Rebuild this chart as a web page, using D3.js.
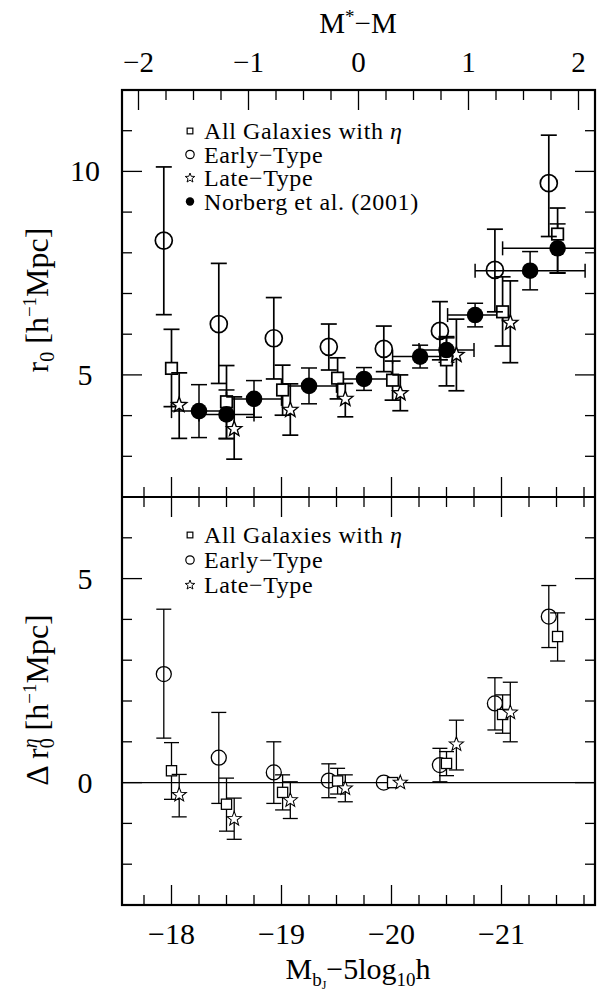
<!DOCTYPE html>
<html>
<head>
<meta charset="utf-8">
<script src="https://cdn.jsdelivr.net/npm/d3@7"></script>
<style>
  body { margin: 0; background: #fff; }
  text { font-family: "Liberation Serif", "DejaVu Serif", serif; fill: #000; }
</style>
</head>
<body>
<svg id="chart" width="601" height="993"></svg>
<script>
// ---- data ----
// absolute magnitude M_bJ - 5log10 h of each bin
const magAll   = [-18.00, -18.50, -19.01, -19.51, -20.01, -20.50, -21.01, -21.51];
const magEarly = [-17.93, -18.43, -18.93, -19.43, -19.93, -20.44, -20.94, -21.43];
const magLate  = [-18.07, -18.57, -19.08, -19.58, -20.08, -20.59, -21.08];

// upper panel: r0 [h^-1 Mpc] with error bar ends
const r0All     = [5.16, 4.34, 4.63, 4.92, 4.87, 5.37, 6.55, 8.46];
const r0AllHi   = [6.12, 5.23, 5.24, 5.42, 5.34, 5.94, 7.41, 9.10];
const r0AllLo   = [4.22, 3.44, 4.01, 4.41, 4.38, 4.73, 5.71, 7.50];
const r0Early   = [8.30, 6.25, 5.90, 5.69, 5.64, 6.08, 7.58, 9.71];
const r0EarlyHi = [10.11, 7.74, 6.90, 6.25, 6.20, 6.80, 8.58, 10.89];
const r0EarlyLo = [6.48, 4.79, 4.90, 5.12, 5.08, 5.37, 6.55, 8.40];
const r0Late    = [4.26, 3.67, 4.14, 4.41, 4.55, 5.49, 6.28];
const r0LateHi  = [5.05, 4.46, 4.78, 4.79, 5.00, 6.37, 7.31];
const r0LateLo  = [3.44, 2.93, 3.52, 3.97, 4.12, 4.61, 5.30];

// Norberg et al. (2001)
const magNorberg   = [-18.25, -18.50, -18.75, -19.25, -19.75, -20.26, -20.50, -20.76, -21.26, -21.51];
const magNorbergHw = [0.25, 0.25, 0.25, 0.25, 0.25, 0.25, 0.25, 0.25, 0.50, 0.50];
const r0Norberg    = [4.11, 4.03, 4.41, 4.73, 4.90, 5.45, 5.61, 6.47, 7.56, 8.11];
const r0NorbergErr = [0.65, 0.60, 0.45, 0.44, 0.28, 0.28, 0.30, 0.29, 0.47, 0.60];

// lower panel: delta r0^eta [h^-1 Mpc]
const dAll     = [0.29, -0.53, -0.24, 0.04, 0.00, 0.47, 1.67, 3.58];
const dAllHi   = [0.98, 0.11, 0.19, 0.35, 0.00, 0.76, 2.15, 4.16];
const dAllLo   = [-0.41, -1.19, -0.67, -0.28, 0.00, 0.17, 1.21, 2.98];
const dEarly   = [2.66, 0.61, 0.25, 0.05, 0.00, 0.43, 1.94, 4.07];
const dEarlyHi = [4.25, 1.72, 1.00, 0.46, 0.00, 0.84, 2.57, 4.83];
const dEarlyLo = [1.09, -0.51, -0.51, -0.37, 0.00, 0.02, 1.29, 3.31];
const dLate    = [-0.30, -0.89, -0.43, -0.14, 0.00, 0.94, 1.72];
const dLateHi  = [0.20, -0.38, 0.02, 0.19, 0.00, 1.53, 2.46];
const dLateLo  = [-0.84, -1.39, -0.88, -0.47, 0.00, 0.31, 1.00];

// axes
const mStar = -19.7;                       // top axis is M* - M
const magTicks = [-18, -19, -20, -21];
const topTicks = [-2, -1, 0, 1, 2];
const r0Ticks = [5, 10];
const dTicks = [0, 5];
const legendTop = ["All Galaxies with ", "Early\u2212Type", "Late\u2212Type", "Norberg et al. (2001)"];
const legendBot = ["All Galaxies with ", "Early\u2212Type", "Late\u2212Type"];

// ---- layout ----
const L = 122, R = 595, T = 90, MID = 497, B = 905;
const svg = d3.select("#chart");

const x = d3.scaleLinear().domain([-17.55, -21.85]).range([L, R]);
const xTop = d3.scaleLinear().domain([mStar + 17.55, mStar + 21.85]).range([L, R]);
const yTop = d3.scaleLinear().domain([2, 12]).range([MID, T]);
const yBot = d3.scaleLinear().domain([-3, 7]).range([B, MID]);

const defs = svg.append("defs");
defs.append("clipPath").attr("id", "clipTop")
  .append("rect").attr("x", L).attr("y", T).attr("width", R - L).attr("height", MID - T);
defs.append("clipPath").attr("id", "clipBot")
  .append("rect").attr("x", L).attr("y", MID).attr("width", R - L).attr("height", B - MID);

function zip(mag, v, hi, lo) {
  return mag.map((m, i) => ({ m, v: v[i], hi: hi[i], lo: lo[i] }));
}

function starPath(Ro) {
  const ri = Ro * 0.42;
  const pts = d3.range(10).map(i => {
    const a = -Math.PI / 2 + i * Math.PI / 5;
    const rr = i % 2 ? ri : Ro;
    return [rr * Math.cos(a), rr * Math.sin(a)];
  });
  return "M" + pts.map(p => p[0].toFixed(2) + "," + p[1].toFixed(2)).join("L") + "Z";
}

function drawMarker(g, kind, cx, cy, s, sw) {
  if (kind === "square") {
    g.append("rect").attr("x", cx - s * 0.68).attr("y", cy - s * 0.68)
      .attr("width", s * 1.36).attr("height", s * 1.36)
      .attr("fill", "#fff").attr("stroke", "#000").attr("stroke-width", sw);
  } else if (kind === "circle") {
    g.append("circle").attr("cx", cx).attr("cy", cy).attr("r", s)
      .attr("fill", "none").attr("stroke", "#000").attr("stroke-width", sw);
  } else if (kind === "star") {
    g.append("path").attr("d", starPath(s)).attr("transform", `translate(${cx},${cy})`)
      .attr("fill", "#fff").attr("stroke", "#000").attr("stroke-width", sw * 0.8);
  } else {
    g.append("circle").attr("cx", cx).attr("cy", cy).attr("r", s).attr("fill", "#000");
  }
}

function drawSeries(g, data, y, kind, size, sw, cap) {
  data.forEach(d => {
    const cx = x(d.m);
    if (d.hi - d.lo > 0.01) {
      g.append("line").attr("x1", cx).attr("x2", cx).attr("y1", y(d.hi)).attr("y2", y(d.lo))
        .attr("stroke", "#000").attr("stroke-width", sw);
      [d.hi, d.lo].forEach(e => g.append("line")
        .attr("x1", cx - cap).attr("x2", cx + cap).attr("y1", y(e)).attr("y2", y(e))
        .attr("stroke", "#000").attr("stroke-width", sw));
    }
  });
  data.forEach(d => drawMarker(g, kind, x(d.m), y(d.v), size, sw));
}

// ---- upper panel ----
const gTop = svg.append("g").attr("clip-path", "url(#clipTop)");
const norberg = magNorberg.map((m, i) => ({ m, hw: magNorbergHw[i], v: r0Norberg[i], e: r0NorbergErr[i] }));
norberg.forEach(d => {
  const cx = x(d.m), cy = yTop(d.v), x1 = x(d.m + d.hw), x2 = x(d.m - d.hw);
  gTop.append("line").attr("x1", x1).attr("x2", x2).attr("y1", cy).attr("y2", cy)
    .attr("stroke", "#000").attr("stroke-width", 1.5);
  [x1, x2].forEach(xx => gTop.append("line").attr("x1", xx).attr("x2", xx)
    .attr("y1", cy - 7).attr("y2", cy + 7).attr("stroke", "#000").attr("stroke-width", 1.5));
  gTop.append("line").attr("x1", cx).attr("x2", cx).attr("y1", yTop(d.v + d.e)).attr("y2", yTop(d.v - d.e))
    .attr("stroke", "#000").attr("stroke-width", 1.5);
  [d.v + d.e, d.v - d.e].forEach(e => gTop.append("line")
    .attr("x1", cx - 8).attr("x2", cx + 8).attr("y1", yTop(e)).attr("y2", yTop(e))
    .attr("stroke", "#000").attr("stroke-width", 1.5));
});
drawSeries(gTop, zip(magAll, r0All, r0AllHi, r0AllLo), yTop, "square", 8.5, 1.7, 8);
drawSeries(gTop, zip(magEarly, r0Early, r0EarlyHi, r0EarlyLo), yTop, "circle", 8.5, 1.7, 8);
drawSeries(gTop, zip(magLate, r0Late, r0LateHi, r0LateLo), yTop, "star", 8, 1.7, 8);
norberg.forEach(d => drawMarker(gTop, "filled", x(d.m), yTop(d.v), 8.3, 0));

// ---- lower panel ----
const gBot = svg.append("g").attr("clip-path", "url(#clipBot)");
gBot.append("line").attr("x1", L).attr("x2", R).attr("y1", yBot(0)).attr("y2", yBot(0))
  .attr("stroke", "#000").attr("stroke-width", 1.3);
drawSeries(gBot, zip(magEarly, dEarly, dEarlyHi, dEarlyLo), yBot, "circle", 7.5, 1.3, 7.5);
drawSeries(gBot, zip(magAll, dAll, dAllHi, dAllLo), yBot, "square", 7.5, 1.3, 7.5);
drawSeries(gBot, zip(magLate, dLate, dLateHi, dLateLo), yBot, "star", 7.5, 1.3, 7.5);

// ---- ticks ----
const ax = svg.append("g").attr("stroke", "#000").attr("stroke-width", 1.3);
function xTicks(scale, vals, y0, dir, len) {
  vals.forEach(v => ax.append("line").attr("x1", scale(v)).attr("x2", scale(v))
    .attr("y1", y0).attr("y2", y0 + dir * len));
}
function yTicks(scale, vals, len) {
  vals.forEach(v => {
    ax.append("line").attr("x1", L).attr("x2", L + len).attr("y1", scale(v)).attr("y2", scale(v));
    ax.append("line").attr("x1", R).attr("x2", R - len).attr("y1", scale(v)).attr("y2", scale(v));
  });
}
const magMinor = d3.range(-17.75, -21.85, -0.25).filter(v => !magTicks.includes(v));
const topMinor = d3.range(-2, 2.01, 0.25).filter(v => !topTicks.includes(v));

xTicks(xTop, topTicks, T, 1, 20);
xTicks(xTop, topMinor, T, 1, 10);
[MID, B].forEach(y0 => { xTicks(x, magTicks, y0, -1, 20); xTicks(x, magMinor, y0, -1, 10); });
xTicks(x, magTicks, MID, 1, 20);
xTicks(x, magMinor, MID, 1, 10);
yTicks(yTop, r0Ticks, 20);
yTicks(yTop, d3.range(3, 12).filter(v => !r0Ticks.includes(v)), 10);
yTicks(yBot, dTicks, 20);
yTicks(yBot, d3.range(-2, 7).filter(v => !dTicks.includes(v)), 10);

// frame
const frame = svg.append("g").attr("fill", "none").attr("stroke", "#000").attr("stroke-width", 2.2);
frame.append("rect").attr("x", L).attr("y", T).attr("width", R - L).attr("height", B - T);
frame.append("line").attr("x1", L).attr("x2", R).attr("y1", MID).attr("y2", MID);

// ---- tick labels ----
const fmt = v => (v < 0 ? "\u2212" : "") + Math.abs(v);
svg.append("g").selectAll("text").data(topTicks).join("text")
  .attr("x", d => xTop(d)).attr("y", 72).attr("text-anchor", "middle")
  .attr("font-size", 29).text(fmt);
svg.append("g").selectAll("text").data(magTicks).join("text")
  .attr("x", d => x(d)).attr("y", 944).attr("text-anchor", "middle")
  .attr("font-size", 30).text(fmt);
svg.append("g").selectAll("text").data(r0Ticks).join("text")
  .attr("x", 85).attr("y", d => yTop(d) + 10).attr("text-anchor", "middle")
  .attr("font-size", 30).text(fmt);
svg.append("g").selectAll("text").data(dTicks).join("text")
  .attr("x", 85).attr("y", d => yBot(d) + 10).attr("text-anchor", "middle")
  .attr("font-size", 30).text(fmt);

// ---- axis titles ----
const tt = svg.append("text").attr("x", 358).attr("y", 33).attr("text-anchor", "middle").attr("font-size", 29);
tt.append("tspan").text("M");
tt.append("tspan").attr("font-size", 19).attr("dy", -10).text("*");
tt.append("tspan").attr("dy", 10).text("\u2212M");

const xt = svg.append("text").attr("x", 358).attr("y", 979).attr("text-anchor", "middle").attr("font-size", 30);
xt.append("tspan").text("M");
xt.append("tspan").attr("font-size", 19).attr("dy", 7).text("b");
xt.append("tspan").attr("font-size", 12).attr("dy", 3).text("J");
xt.append("tspan").attr("dy", -10).text("\u22125log");
xt.append("tspan").attr("font-size", 19).attr("dy", 7).text("10");
xt.append("tspan").attr("dy", -7).text("h");

const yt1 = svg.append("text").attr("transform", "translate(48,300) rotate(-90)")
  .attr("text-anchor", "middle").attr("font-size", 32);
yt1.append("tspan").text("r");
yt1.append("tspan").attr("font-size", 20).attr("dy", 6).text("0");
yt1.append("tspan").attr("dy", -6).text(" [h");
yt1.append("tspan").attr("font-size", 19).attr("dy", -12).text("\u22121");
yt1.append("tspan").attr("dy", 12).text("Mpc]");

const yt2 = svg.append("text").attr("transform", "translate(48,700) rotate(-90)")
  .attr("text-anchor", "middle").attr("font-size", 32);
yt2.append("tspan").text("\u0394 r");
yt2.append("tspan").attr("font-size", 20).attr("dy", 6).text("0");
yt2.append("tspan").attr("font-size", 20).attr("font-style", "italic").attr("dx", -10).attr("dy", -17).text("\u03b7");
yt2.append("tspan").attr("dy", 11).text(" [h");
yt2.append("tspan").attr("font-size", 19).attr("dy", -12).text("\u22121");
yt2.append("tspan").attr("dy", 12).text("Mpc]");

// ---- legends ----
function legend(labels, kinds, y0, step) {
  labels.forEach((lab, i) => {
    const cy = y0 + i * step;
    drawMarker(svg, kinds[i], 190, cy, kinds[i] === "star" ? 5 : 4.2, 1.2);
    const t = svg.append("text").attr("x", 204).attr("y", cy + 8).attr("font-size", 24)
      .attr("letter-spacing", 0.6).text(lab);
    if (i === 0) t.append("tspan").attr("font-style", "italic").text("\u03b7");
  });
}
legend(legendTop, ["square", "circle", "star", "filled"], 131, 23.5);
legend(legendBot, ["square", "circle", "star"], 535, 25);
</script>
</body>
</html>
